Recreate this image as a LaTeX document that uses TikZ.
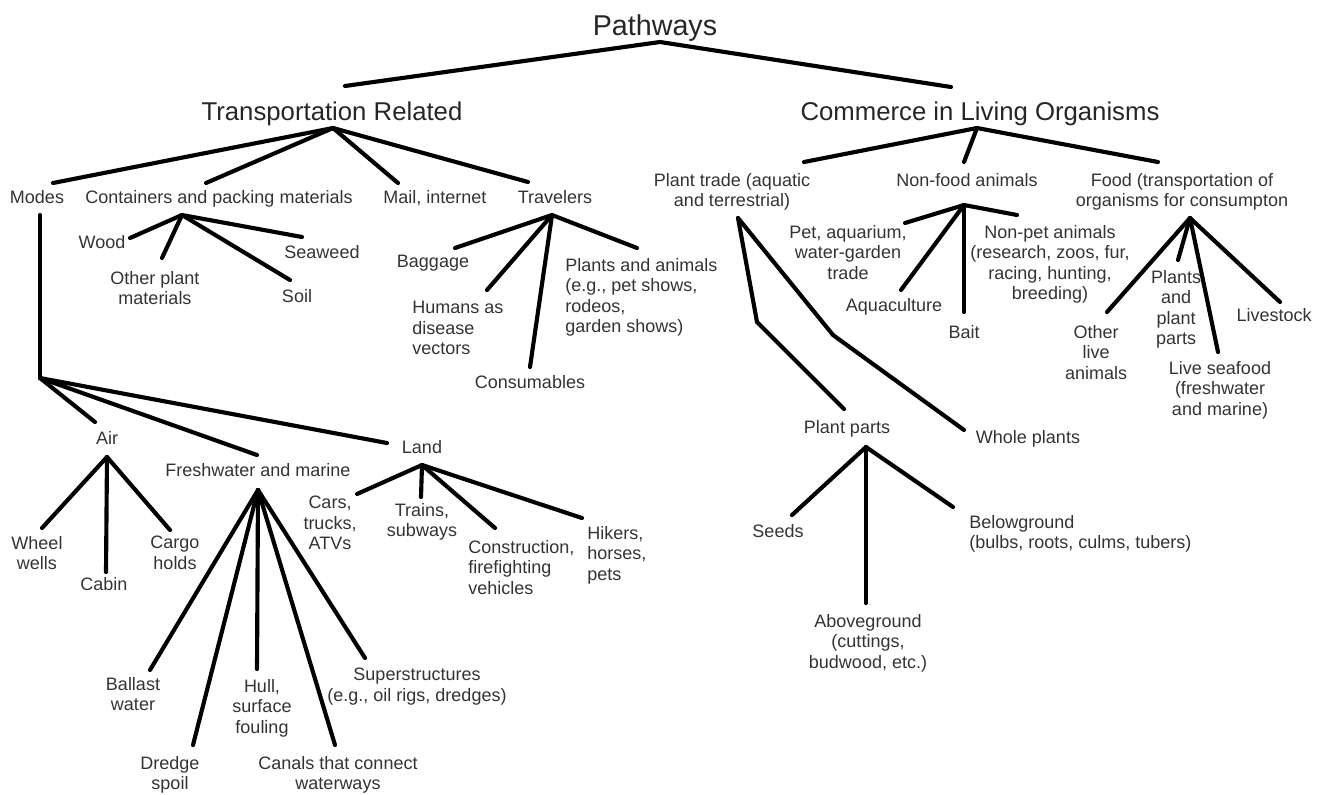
\documentclass[tikz,border=0pt]{standalone}
\usepackage{fontspec}
\setmainfont{Liberation Sans}
\begin{document}
\begin{tikzpicture}[x=0.75pt,y=-0.75pt,
  conn/.style={draw=black, line width=3.1pt, line cap=round, line join=round},
  lbl/.style={font=\fontsize{13.5}{15.4}\selectfont, align=center, inner sep=0pt, anchor=north, text=black!80},
  lbll/.style={lbl, align=left, anchor=north west},
  ttl/.style={font=\fontsize{19.3}{22}\selectfont, inner sep=0pt, anchor=base, text=black!85},
  top/.style={font=\fontsize{21.5}{24}\selectfont, inner sep=0pt, anchor=base, text=black!85}]
\useasboundingbox (0,0) rectangle (1327,794);

% ---------- titles ----------
\node[top] (path) at (655,35) {Pathways};
\node[ttl] (tr) at (332,120) {Transportation Related};
\node[ttl] (co) at (980,120) {Commerce in Living Organisms};

\coordinate (pathA) at (660,42);
\coordinate (trIn) at (345,86);
\coordinate (coIn) at (951,87);
\draw[conn] (trIn) -- (pathA) -- (coIn);

% ---------- Transportation ----------
\coordinate (trA) at (333,128);
\node[lbl] (modes) at (37,190) {Modes};
\node[lbl] (cont) at (219,190) {Containers and packing materials};
\node[lbl] (mail) at (435,190) {Mail, internet};
\node[lbl] (trav) at (555,190) {Travelers};
\coordinate (modesIn) at (53,183);
\coordinate (contIn) at (206,183);
\coordinate (mailIn) at (398,183);
\coordinate (travIn) at (528,182);
\draw[conn] (trA) -- (modesIn);
\draw[conn] (trA) -- (contIn);
\draw[conn] (trA) -- (mailIn);
\draw[conn] (trA) -- (travIn);

% Containers
\coordinate (contA) at (182,215);
\node[lbl] (wood) at (102,235) {Wood};
\node[lbl] (other) at (155,271) {Other plant\\materials};
\node[lbl] (seaweed) at (322,245) {Seaweed};
\node[lbl] (soil) at (297,289) {Soil};
\coordinate (woodIn) at (130,238);
\coordinate (otherIn) at (162,258);
\coordinate (seaIn) at (302,237);
\coordinate (soilIn) at (290,280);
\draw[conn] (contA) -- (woodIn);
\draw[conn] (contA) -- (otherIn);
\draw[conn] (contA) -- (seaIn);
\draw[conn] (contA) -- (soilIn);

% Travelers
\coordinate (travA) at (552,215);
\node[lbl] (bag) at (433,255) {Baggage};
\node[lbll] (hum) at (412,301) {Humans as\\disease\\vectors};
\node[lbl] (cons) at (530,375) {Consumables};
\node[lbll] (pla) at (565,258) {Plants and animals\\(e.g., pet shows,\\rodeos,\\garden shows)};
\coordinate (bagIn) at (455,248);
\coordinate (humIn) at (487,290);
\coordinate (consIn) at (530,367);
\coordinate (plaIn) at (637,248);
\draw[conn] (travA) -- (bagIn);
\draw[conn] (travA) -- (humIn);
\draw[conn] (travA) -- (consIn);
\draw[conn] (travA) -- (plaIn);

% Modes
\coordinate (modesA) at (40,215);
\coordinate (modesB) at (40,378);
\draw[conn] (modesA) -- (modesB);
\node[lbl] (air) at (107,431) {Air};
\node[lbl] (fw) at (258,463) {Freshwater and marine};
\node[lbl] (land) at (422,440) {Land};
\coordinate (airIn) at (95,422);
\coordinate (fwIn) at (257,455);
\coordinate (landIn) at (387,443);
\draw[conn] (modesB) -- (airIn);
\draw[conn] (modesB) -- (fwIn);
\draw[conn] (modesB) -- (landIn);

% Air
\coordinate (airA) at (107,457);
\node[lbl] (wheel) at (37,536) {Wheel\\wells};
\node[lbl] (cabin) at (104,577) {Cabin};
\node[lbl] (cargo) at (175,536) {Cargo\\holds};
\coordinate (wheelIn) at (42,528);
\coordinate (cabinIn) at (106,572);
\coordinate (cargoIn) at (170,530);
\draw[conn] (airA) -- (wheelIn);
\draw[conn] (airA) -- (cabinIn);
\draw[conn] (airA) -- (cargoIn);

% Freshwater and marine
\coordinate (fwA) at (258,490);
\node[lbl] (ballast) at (133,677) {Ballast\\water};
\node[lbl] (dredge) at (170,756) {Dredge\\spoil};
\node[lbl] (hull) at (262,679) {Hull,\\surface\\fouling};
\node[lbl] (canals) at (338,756) {Canals that connect\\waterways};
\node[lbl] (super) at (417,668) {Superstructures\\(e.g., oil rigs, dredges)};
\coordinate (balIn) at (150,670);
\coordinate (dreIn) at (193,745);
\coordinate (hullIn) at (257,669);
\coordinate (canIn) at (335,745);
\coordinate (supIn) at (365,658);
\draw[conn] (fwA) -- (balIn);
\draw[conn] (fwA) -- (dreIn);
\draw[conn] (fwA) -- (hullIn);
\draw[conn] (fwA) -- (canIn);
\draw[conn] (fwA) -- (supIn);

% Land
\coordinate (landA) at (422,465);
\node[lbl] (cars) at (330,496) {Cars,\\trucks,\\ATVs};
\node[lbl] (trains) at (422,503) {Trains,\\subways};
\node[lbll] (constr) at (468,540) {Construction,\\firefighting\\vehicles};
\node[lbll] (hikers) at (587,526) {Hikers,\\horses,\\pets};
\coordinate (carsIn) at (357,494);
\coordinate (trainIn) at (421,497);
\coordinate (conIn) at (495,528);
\coordinate (hikIn) at (582,518);
\draw[conn] (landA) -- (carsIn);
\draw[conn] (landA) -- (trainIn);
\draw[conn] (landA) -- (conIn);
\draw[conn] (landA) -- (hikIn);

% ---------- Commerce ----------
\coordinate (coA) at (977,128);
\node[lbl] (pt) at (732,173) {Plant trade (aquatic\\and terrestrial)};
\node[lbl] (nf) at (967,173) {Non-food animals};
\node[lbl] (food) at (1182,173) {Food (transportation of\\organisms for consumpton};
\coordinate (ptIn) at (804,162);
\coordinate (nfIn) at (964,162);
\coordinate (foodIn) at (1158,162);
\draw[conn] (coA) -- (ptIn);
\draw[conn] (coA) -- (nfIn);
\draw[conn] (coA) -- (foodIn);

% Plant trade
\coordinate (ptA) at (738,218);
\coordinate (ptB1) at (757,322);
\coordinate (ptB2) at (833,335);
\node[lbl] (pp) at (847,420) {Plant parts};
\node[lbl] (wp) at (1028,430) {Whole plants};
\coordinate (ppIn) at (844,409);
\coordinate (wpIn) at (964,430);
\draw[conn] (ptA) -- (ptB1) -- (ppIn);
\draw[conn] (ptA) -- (ptB2) -- (wpIn);

% Plant parts
\coordinate (ppA) at (866,447);
\node[lbl] (seeds) at (778,524) {Seeds};
\node[lbl] (above) at (868,614) {Aboveground\\(cuttings,\\budwood, etc.)};
\node[lbll] (below) at (969,515) {Belowground\\(bulbs, roots, culms, tubers)};
\coordinate (seedIn) at (792,515);
\coordinate (agIn) at (866,603);
\coordinate (bgIn) at (953,507);
\draw[conn] (ppA) -- (seedIn);
\draw[conn] (ppA) -- (agIn);
\draw[conn] (ppA) -- (bgIn);

% Non-food animals
\coordinate (nfA) at (964,205);
\node[lbl] (pet) at (848,225) {Pet, aquarium,\\water-garden\\trade};
\node[lbl] (aqua) at (894,298) {Aquaculture};
\node[lbl] (bait) at (964,325) {Bait};
\node[lbl] (nonpet) at (1050,225) {Non-pet animals\\(research, zoos, fur,\\racing, hunting,\\breeding)};
\coordinate (petIn) at (905,223);
\coordinate (aquaIn) at (901,290);
\coordinate (baitIn) at (964,312);
\coordinate (npIn) at (1017,215);
\draw[conn] (nfA) -- (petIn);
\draw[conn] (nfA) -- (aquaIn);
\draw[conn] (nfA) -- (baitIn);
\draw[conn] (nfA) -- (npIn);

% Food
\coordinate (foodA) at (1190,218);
\node[lbl] (olive) at (1096,325) {Other\\live\\animals};
\node[lbl] (ppa) at (1176,270) {Plants\\and\\plant\\parts};
\node[lbl] (seafood) at (1220,361) {Live seafood\\(freshwater\\and marine)};
\node[lbl] (livestock) at (1274,308) {Livestock};
\coordinate (olIn) at (1107,312);
\coordinate (ppaIn) at (1178,260);
\coordinate (lsIn) at (1218,352);
\coordinate (lvIn) at (1280,302);
\draw[conn] (foodA) -- (olIn);
\draw[conn] (foodA) -- (ppaIn);
\draw[conn] (foodA) -- (lsIn);
\draw[conn] (foodA) -- (lvIn);
\end{tikzpicture}
\end{document}
